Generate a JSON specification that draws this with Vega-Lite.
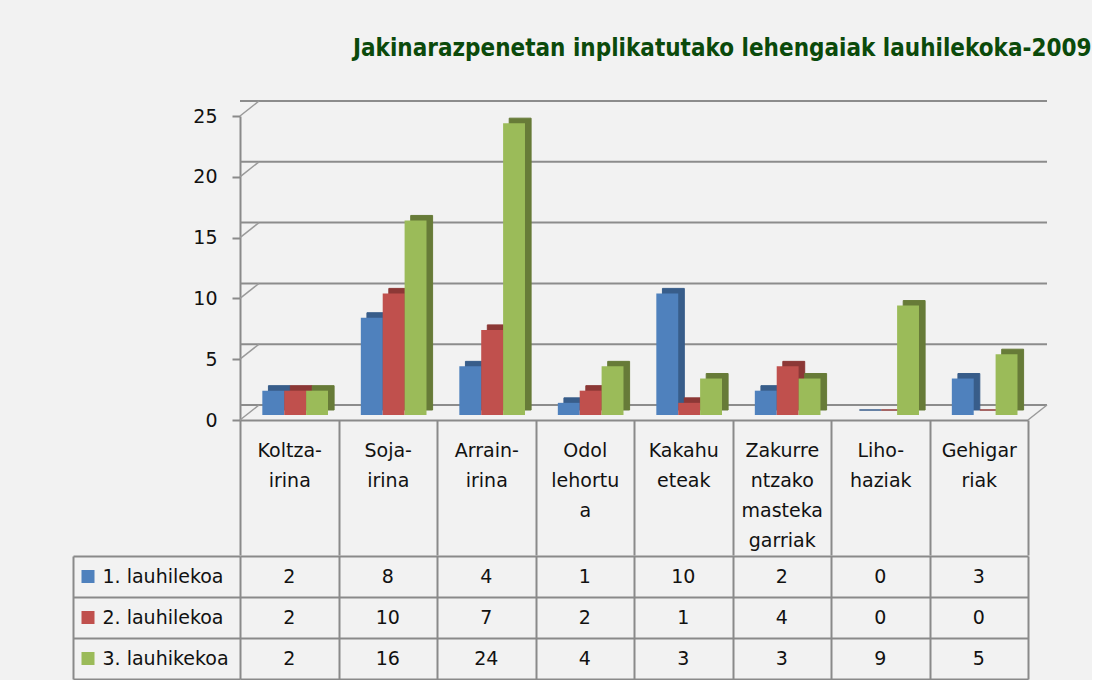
{
  "$schema": "https://vega.github.io/schema/vega-lite/v6.json",
  "background": "#F2F2F2",
  "padding": {"left": 72, "top": 37, "right": 0, "bottom": 0},
  "title": {
    "text": "Jakinarazpenetan inplikatutako lehengaiak lauhilekoka-2009",
    "font": "DejaVu Sans Condensed",
    "fontSize": 24,
    "fontWeight": "bold",
    "color": "#0b4a0b",
    "anchor": "start",
    "dx": 281,
    "offset": 39
  },
  "datasets": {
    "bars": [
      {"cat": "Koltza-irina", "series": "1. lauhilekoa", "value": 2},
      {"cat": "Soja-irina", "series": "1. lauhilekoa", "value": 8},
      {"cat": "Arrain-irina", "series": "1. lauhilekoa", "value": 4},
      {"cat": "Odol lehortua", "series": "1. lauhilekoa", "value": 1},
      {"cat": "Kakahueteak", "series": "1. lauhilekoa", "value": 10},
      {"cat": "Zakurrentzako mastekagarriak", "series": "1. lauhilekoa", "value": 2},
      {"cat": "Liho-haziak", "series": "1. lauhilekoa", "value": 0},
      {"cat": "Gehigarriak", "series": "1. lauhilekoa", "value": 3},
      {"cat": "Koltza-irina", "series": "2. lauhilekoa", "value": 2},
      {"cat": "Soja-irina", "series": "2. lauhilekoa", "value": 10},
      {"cat": "Arrain-irina", "series": "2. lauhilekoa", "value": 7},
      {"cat": "Odol lehortua", "series": "2. lauhilekoa", "value": 2},
      {"cat": "Kakahueteak", "series": "2. lauhilekoa", "value": 1},
      {"cat": "Zakurrentzako mastekagarriak", "series": "2. lauhilekoa", "value": 4},
      {"cat": "Liho-haziak", "series": "2. lauhilekoa", "value": 0},
      {"cat": "Gehigarriak", "series": "2. lauhilekoa", "value": 0},
      {"cat": "Koltza-irina", "series": "3. lauhikekoa", "value": 2},
      {"cat": "Soja-irina", "series": "3. lauhikekoa", "value": 16},
      {"cat": "Arrain-irina", "series": "3. lauhikekoa", "value": 24},
      {"cat": "Odol lehortua", "series": "3. lauhikekoa", "value": 4},
      {"cat": "Kakahueteak", "series": "3. lauhikekoa", "value": 3},
      {"cat": "Zakurrentzako mastekagarriak", "series": "3. lauhikekoa", "value": 3},
      {"cat": "Liho-haziak", "series": "3. lauhikekoa", "value": 9},
      {"cat": "Gehigarriak", "series": "3. lauhikekoa", "value": 5}
    ],
    "grid": [{"g": 0}, {"g": 5}, {"g": 10}, {"g": 15}, {"g": 20}, {"g": 25}]
  },
  "spacing": -12,
  "vconcat": [
    {
      "width": 788,
      "height": 304,
      "resolve": {"scale": {"xOffset": "independent"}},
      "encoding": {
        "x": {
          "field": "cat",
          "type": "nominal",
          "sort": null,
          "scale": {
            "domain": ["Koltza-irina", "Soja-irina", "Arrain-irina", "Odol lehortua", "Kakahueteak", "Zakurrentzako mastekagarriak", "Liho-haziak", "Gehigarriak"],
            "paddingInner": 0,
            "paddingOuter": 0
          },
          "axis": {
            "title": null,
            "orient": "bottom",
            "domainColor": "#8a8a8a",
            "domainWidth": 2,
            "tickBand": "extent",
            "tickSize": 135,
            "tickWidth": 2,
            "tickColor": "#8a8a8a",
            "labelAngle": 0,
            "labelFont": "DejaVu Sans",
            "labelFontSize": 19,
            "labelColor": "#111111",
            "labelBaseline": "top",
            "labelLineHeight": 30,
            "labelPadding": -114,
            "labelExpr": "datum.value == 'Koltza-irina' ? ['Koltza-','irina'] : datum.value == 'Soja-irina' ? ['Soja-','irina'] : datum.value == 'Arrain-irina' ? ['Arrain-','irina'] : datum.value == 'Odol lehortua' ? ['Odol','lehortu','a'] : datum.value == 'Kakahueteak' ? ['Kakahu','eteak'] : datum.value == 'Zakurrentzako mastekagarriak' ? ['Zakurre','ntzako','masteka','garriak'] : datum.value == 'Liho-haziak' ? ['Liho-','haziak'] : datum.value == 'Gehigarriak' ? ['Gehigar','riak'] : ''"
          }
        }
      },
      "layer": [
        {
          "data": {"name": "grid"},
          "mark": {"type": "rule", "color": "#8c8c8c", "strokeWidth": 2, "xOffset": 19, "x2Offset": 19, "yOffset": -15},
          "encoding": {
            "x": null,
            "y": {
              "field": "g",
              "type": "quantitative",
              "scale": {"domain": [0, 25], "nice": false},
              "axis": {
                "title": null,
                "values": [0, 5, 10, 15, 20, 25],
                "grid": false,
                "domainColor": "#8a8a8a",
                "domainWidth": 2,
                "tickColor": "#8a8a8a",
                "tickWidth": 2,
                "tickSize": 8,
                "labelFont": "DejaVu Sans",
                "labelFontSize": 19,
                "labelColor": "#111111",
                "labelPadding": 15
              }
            }
          }
        },
        {
          "data": {"name": "grid"},
          "mark": {"type": "rule", "color": "#9a9a9a", "strokeWidth": 1.5, "x2Offset": 19, "y2Offset": -15},
          "encoding": {
            "x": {"datum": "Koltza-irina", "bandPosition": 0},
            "x2": {"datum": "Koltza-irina", "bandPosition": 0},
            "y": {"field": "g", "type": "quantitative"},
            "y2": {"field": "g"}
          }
        },
        {
          "data": {"name": "grid"},
          "transform": [{"filter": "datum.g == 0"}],
          "mark": {"type": "rule", "color": "#9a9a9a", "strokeWidth": 1.5, "x2Offset": 19, "y2Offset": -15},
          "encoding": {
            "x": {"datum": "Gehigarriak", "bandPosition": 1},
            "x2": {"datum": "Gehigarriak", "bandPosition": 1},
            "y": {"field": "g", "type": "quantitative"},
            "y2": {"field": "g"}
          }
        },
        {
          "data": {"name": "bars"},
          "mark": {"type": "bar", "strokeWidth": 1, "yOffset": -10, "y2Offset": -10},
          "encoding": {
            "xOffset": {"field": "series", "type": "nominal", "scale": {"paddingInner": 0, "paddingOuter": 0.75, "align": 0.866}},
            "y": {"field": "value", "type": "quantitative"},
            "fill": {"field": "series", "type": "nominal", "scale": {"domain": ["1. lauhilekoa", "2. lauhilekoa", "3. lauhikekoa"], "range": ["#385D8A", "#8C3836", "#677B38"]}, "legend": null},
            "stroke": {"field": "series", "type": "nominal", "scale": {"domain": ["1. lauhilekoa", "2. lauhilekoa", "3. lauhikekoa"], "range": ["#385D8A", "#8C3836", "#677B38"]}, "legend": null}
          }
        },
        {
          "data": {"name": "bars"},
          "mark": {"type": "bar", "yOffset": -5, "y2Offset": -5},
          "encoding": {
            "xOffset": {"field": "series", "type": "nominal", "scale": {"paddingInner": 0, "paddingOuter": 0.75, "align": 0.68}},
            "y": {"field": "value", "type": "quantitative"},
            "color": {"field": "series", "type": "nominal", "scale": {"domain": ["1. lauhilekoa", "2. lauhilekoa", "3. lauhikekoa"], "range": ["#4F81BD", "#C0504D", "#9BBB59"]}, "legend": null}
          }
        }
      ]
    },
    {
      "width": 788,
      "height": 123,
      "data": {"name": "bars"},
      "encoding": {
        "x": {
          "field": "cat",
          "type": "nominal",
          "sort": null,
          "scale": {
            "domain": ["Koltza-irina", "Soja-irina", "Arrain-irina", "Odol lehortua", "Kakahueteak", "Zakurrentzako mastekagarriak", "Liho-haziak", "Gehigarriak"],
            "paddingInner": 0,
            "paddingOuter": 0
          },
          "axis": {
            "title": null,
            "orient": "top",
            "labels": false,
            "ticks": false,
            "domain": false,
            "grid": true,
            "tickBand": "extent",
            "gridColor": "#8a8a8a",
            "gridWidth": 2,
            "gridOpacity": 1,
            "minExtent": 0
          }
        },
        "y": {
          "field": "series",
          "type": "nominal",
          "sort": null,
          "scale": {"domain": ["1. lauhilekoa", "2. lauhilekoa", "3. lauhikekoa"], "paddingInner": 0, "paddingOuter": 0},
          "axis": {
            "title": null,
            "grid": true,
            "tickBand": "extent",
            "gridColor": "#8a8a8a",
            "gridWidth": 2,
            "gridOpacity": 1,
            "offset": 167,
            "domainColor": "#8a8a8a",
            "domainWidth": 2,
            "tickColor": "#8a8a8a",
            "tickWidth": 2,
            "tickSize": -167,
            "labelAlign": "left",
            "labelPadding": 138,
            "labelFont": "DejaVu Sans",
            "labelFontSize": 19,
            "labelColor": "#111111"
          }
        }
      },
      "layer": [
        {
          "mark": {"type": "text", "font": "DejaVu Sans", "fontSize": 19, "color": "#111111", "align": "center", "baseline": "middle"},
          "encoding": {"text": {"field": "value", "type": "quantitative"}}
        },
        {
          "transform": [{"filter": "datum.cat == 'Koltza-irina'"}],
          "mark": {"type": "point", "shape": "square", "filled": true, "size": 169, "opacity": 1, "xOffset": -152},
          "encoding": {
            "x": {"datum": "Koltza-irina", "bandPosition": 0},
            "color": {"field": "series", "type": "nominal", "scale": {"domain": ["1. lauhilekoa", "2. lauhilekoa", "3. lauhikekoa"], "range": ["#4F81BD", "#C0504D", "#9BBB59"]}, "legend": null}
          }
        }
      ]
    }
  ],
  "config": {
    "view": {"stroke": null}
  }
}
